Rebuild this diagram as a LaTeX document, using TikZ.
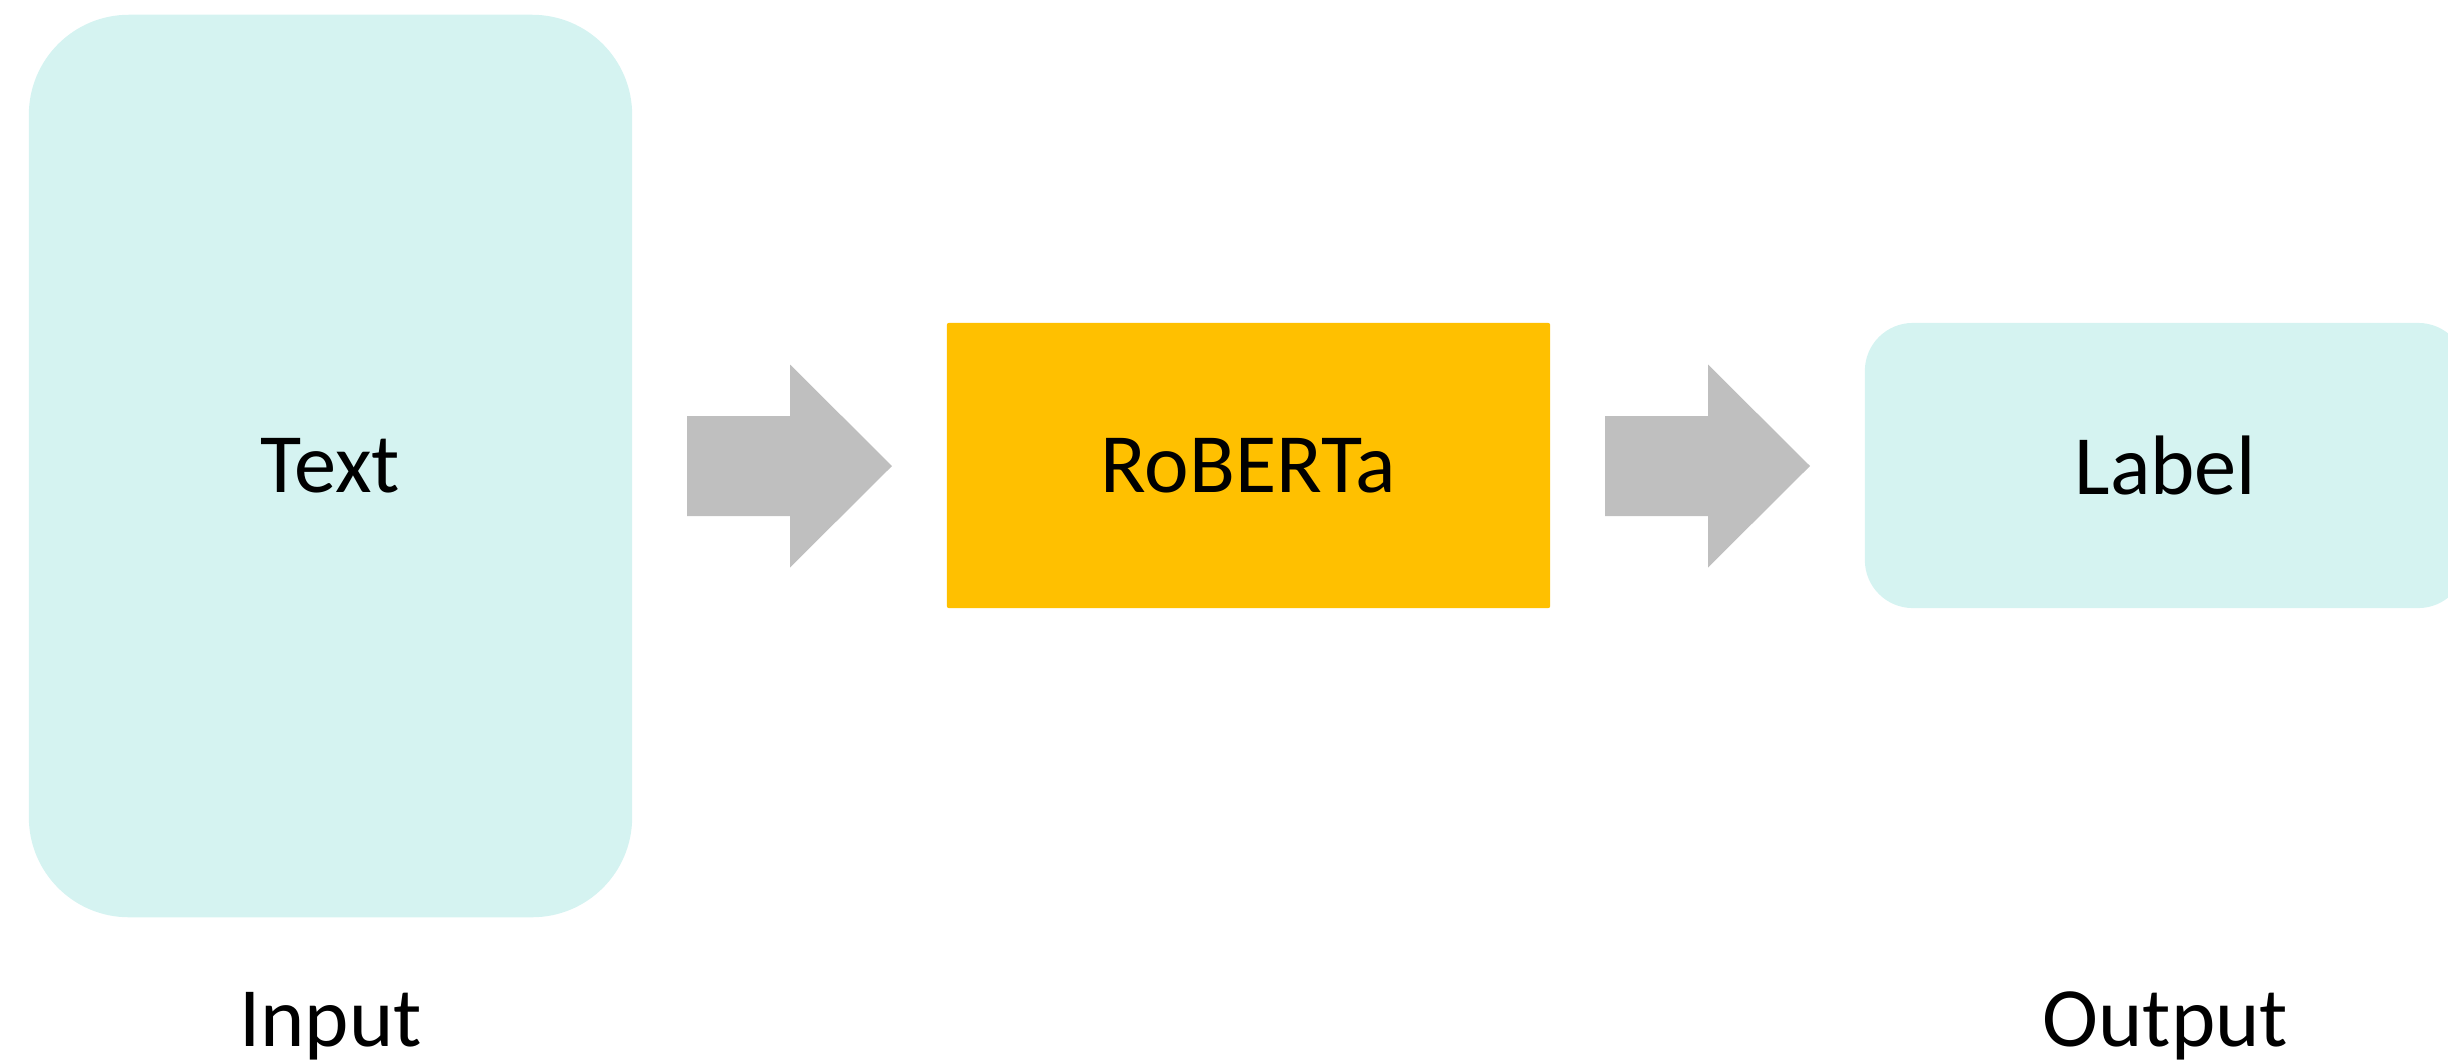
\documentclass[tikz,border=0pt]{standalone}
\usepackage{fontspec}
\setmainfont{Carlito}
\usetikzlibrary{calc}

\definecolor{boxcyan}{HTML}{D5F3F1}
\definecolor{modelorange}{HTML}{FFC000}
\definecolor{arrowgray}{HTML}{BFBFBF}

\begin{document}
\begin{tikzpicture}[
		x=0.01cm, y=-0.01cm,
		every node/.style={font=\fontsize{24}{28}\selectfont},
		databox/.style={fill=boxcyan,inner sep=0pt},
		modelbox/.style={fill=modelorange,inner sep=0pt,rounded corners=0.02cm},
		blockarrow/.style={fill=arrowgray}
	]

		\clip (0,0) rectangle (2448,1063);

		%input box
		\node[databox,rounded corners=1cm,minimum width=6.03cm,minimum height=9.02cm] (input) at (330.5,466) {Text};

		%model
		\node[modelbox,minimum width=6.03cm,minimum height=2.85cm] (model) at (1248.5,465.5) {RoBERTa};

		%output box (runs past the right edge)
		\node[databox,rounded corners=0.48cm,minimum width=6.01cm,minimum height=2.85cm] (output) at (2165.5,465.5) {Label};

		% block arrows between the boxes
		\foreach \x/\name in {687/arrowa,1605/arrowb} {
			\coordinate (\name) at (\x,466);
			\fill[blockarrow] ($(\name)+(0,-50)$) -- ++(103,0) -- ++(0,-51.5) -- ++(102,101.5)
				-- ++(-102,101.5) -- ++(0,-51.5) -- ++(-103,0) -- cycle;
		}

		%captions
		\node[anchor=base] (incaption) at (input.center |- 0,1046) {Input};
		\node[anchor=base] (outcaption) at (output.center |- 0,1046) {Output};
	\end{tikzpicture}
\end{document}
